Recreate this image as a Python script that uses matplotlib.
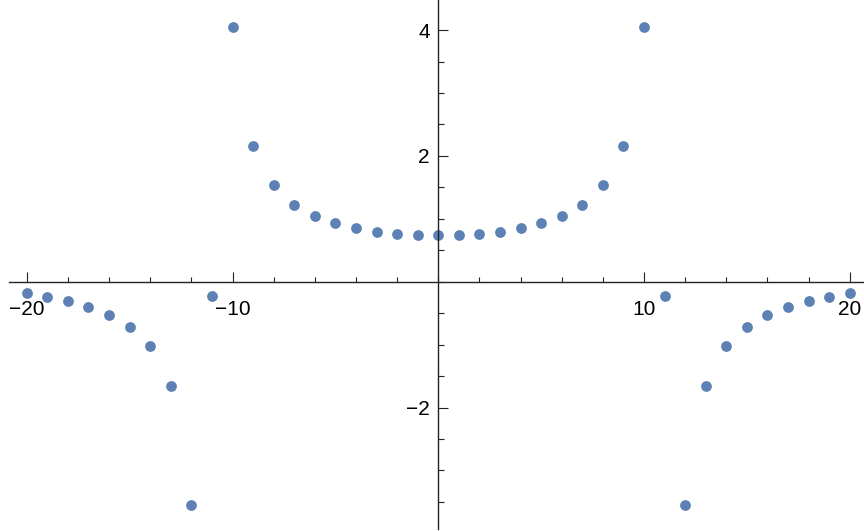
import matplotlib.pyplot as plt
from matplotlib.ticker import MultipleLocator, FixedLocator

X_VALUES = list(range(-20, 21))

# values read per integer x, left half mirrors the right half
Y_RIGHT = [0.744, 0.749, 0.766, 0.798, 0.852, 0.927, 1.046, 1.224, 1.531, 2.156,
           4.043, -0.232, -3.542, -1.650, -1.019, -0.712, -0.523, -0.399, -0.307,
           -0.248, -0.173]
Y_VALUES = Y_RIGHT[:0:-1] + Y_RIGHT

X_TICKS = [-20, -10, 10, 20]
Y_TICKS = [-2, 2, 4]

POINT_COLOR = '#5E81B5'
AXIS_COLOR = '#222222'
FONT = ['Liberation Sans', 'DejaVu Sans']


def build_plot():
    plt.rcParams['font.family'] = FONT
    fig = plt.figure(figsize=(8.64, 5.31), dpi=100)
    ax = fig.add_axes([0, 0, 1, 1])

    ax.scatter(X_VALUES, Y_VALUES, s=60, color=POINT_COLOR, linewidths=0)

    ax.set_xlim(-21.30, 20.69)
    ax.set_ylim(-3.963, 4.479)

    # axes crossing at the origin
    for side in ('top', 'right'):
        ax.spines[side].set_visible(False)
    ax.spines['bottom'].set_position(('data', 0))
    ax.spines['left'].set_position(('data', 0))
    ax.spines['bottom'].set_bounds(-20.85, 20.69)
    ax.spines['left'].set_bounds(-3.93, 4.479)
    for side in ('bottom', 'left'):
        ax.spines[side].set_color(AXIS_COLOR)
        ax.spines[side].set_linewidth(1.0)

    ax.xaxis.set_major_locator(FixedLocator(X_TICKS))
    ax.xaxis.set_minor_locator(MultipleLocator(2))
    ax.yaxis.set_major_locator(FixedLocator(Y_TICKS))
    ax.yaxis.set_minor_locator(MultipleLocator(0.5))
    ax.set_xticklabels([str(t).replace('-', '\u2212') for t in X_TICKS])
    ax.set_yticklabels([str(t).replace('-', '\u2212') for t in Y_TICKS])

    # x tick marks point up, y tick marks point right
    ax.tick_params(axis='x', which='major', direction='in', length=7.2, width=0.8,
                   color=AXIS_COLOR, labelsize=15, pad=13)
    ax.tick_params(axis='x', which='minor', direction='in', length=3.8, width=0.8,
                   color=AXIS_COLOR)
    ax.tick_params(axis='y', which='major', direction='in', length=7.2, width=0.8,
                   color=AXIS_COLOR, labelsize=15, pad=6)
    ax.tick_params(axis='y', which='minor', direction='in', length=4.3, width=0.8,
                   color=AXIS_COLOR)

    fig.savefig('out.png', dpi=100)


if __name__ == '__main__':
    build_plot()
